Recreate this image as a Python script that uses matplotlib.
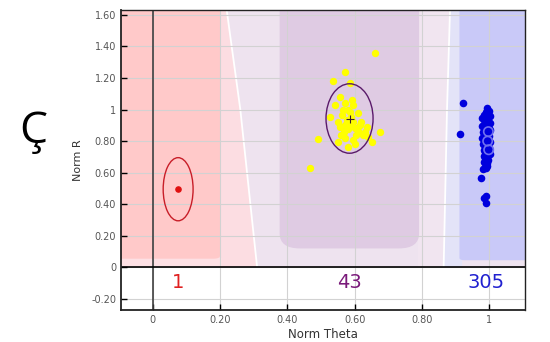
import numpy as np
import matplotlib
matplotlib.use("Agg")
import matplotlib.pyplot as plt
from matplotlib.patches import Ellipse, Rectangle, Polygon, FancyBboxPatch

# cluster counts shown under the plot
counts = ["1", "43", "305"]
count_x = [0.075, 0.585, 0.99]
count_colors = ["#e02020", "#7a1a7a", "#2020d0"]

# red cluster (one point)
red_x = [0.075]
red_y = [0.495]

# yellow cluster
yellow_x = [0.660, 0.571, 0.537, 0.586, 0.557, 0.591, 0.571, 0.596, 0.542, 0.566,
            0.586, 0.562, 0.527, 0.576, 0.596, 0.571, 0.616, 0.636, 0.557, 0.581,
            0.611, 0.676, 0.626, 0.641, 0.571, 0.596, 0.552, 0.492, 0.651, 0.581,
            0.467, 0.590, 0.600, 0.570, 0.620, 0.580, 0.605, 0.550, 0.630, 0.600,
            0.560, 0.590, 0.610]
yellow_y = [1.357, 1.240, 1.183, 1.170, 1.081, 1.060, 1.039, 1.029, 1.029, 0.997,
            0.986, 0.965, 0.950, 0.933, 0.923, 0.902, 0.902, 0.887, 0.887, 0.874,
            0.866, 0.859, 0.838, 0.827, 0.817, 0.806, 0.796, 0.811, 0.796, 0.764,
            0.627, 0.950, 0.880, 0.860, 0.920, 1.000, 0.840, 0.920, 0.860, 0.780,
            0.840, 0.900, 0.980]

# blue cluster
blue_x = [0.923, 0.914, 0.995, 1.000, 0.990, 0.985, 1.003, 0.992, 0.980, 0.998,
          0.988, 1.002, 0.984, 0.994, 0.978, 0.999, 0.987, 1.004, 0.991, 0.982,
          0.996, 0.986, 1.001, 0.990, 0.980, 0.997, 0.985, 1.003, 0.993, 0.983,
          0.998, 0.988, 1.000, 0.992, 0.984, 0.996, 0.987, 1.002, 0.990, 0.985,
          0.994, 0.988, 0.998, 0.991, 0.986, 0.995, 0.990, 0.993, 0.988, 0.992,
          0.982, 0.976, 0.991, 0.985, 0.990]
blue_y = [1.040, 0.845, 1.010, 0.990, 0.985, 0.965, 0.960, 0.950, 0.945, 0.935,
          0.925, 0.915, 0.910, 0.900, 0.895, 0.885, 0.878, 0.870, 0.862, 0.855,
          0.848, 0.840, 0.832, 0.825, 0.818, 0.810, 0.802, 0.795, 0.788, 0.780,
          0.772, 0.765, 0.758, 0.750, 0.742, 0.735, 0.728, 0.720, 0.712, 0.705,
          0.698, 0.690, 0.682, 0.675, 0.668, 0.660, 0.652, 0.645, 0.638, 0.630,
          0.620, 0.565, 0.450, 0.440, 0.410]
blue_ring_x = [0.998, 0.996, 0.999]
blue_ring_y = [0.860, 0.800, 0.745]

xticks = [0, 0.2, 0.4, 0.6, 0.8, 1.0]
xtick_labels = ["0", "0.20", "0.40", "0.60", "0.80", "1"]
yticks = [-0.2, 0, 0.2, 0.4, 0.6, 0.8, 1.0, 1.2, 1.4, 1.6]
ytick_labels = ["-0.20", "0", "0.20", "0.40", "0.60", "0.80", "1", "1.20", "1.40", "1.60"]

x0, x1 = -0.095, 1.107
y0, y1 = -0.27, 1.63

fig = plt.figure(figsize=(5.5, 3.42), dpi=100)
ax = fig.add_axes([0.22, 0.0936, 0.7345, 0.877])
ax.set_xlim(x0, x1)
ax.set_ylim(y0, y1)

# background regions (above y = 0)
ax.add_patch(Rectangle((x0, 0), x1 - x0, y1 + 0.1, color="#eee3ef", lw=0, zorder=0.2))
ax.add_patch(Polygon([(0.19, 0), (0.19, 1.7), (0.215, 1.7), (0.26, 1.0), (0.31, 0)],
                     closed=True, color="#fcdde2", lw=0, zorder=0.3))
ax.plot([0.215, 0.26, 0.31], [1.7, 1.0, 0.0], color="white", lw=1.3, zorder=0.35)
ax.add_patch(Rectangle((x0, 0), 0.30, 0.06, color="#fde0e4", lw=0, zorder=0.3))
ax.add_patch(FancyBboxPatch((x0 - 0.05, 0.055), 0.345, 1.7, boxstyle="round,pad=0.0,rounding_size=0.02",
                            color="#ffc9c9", lw=0, zorder=0.4))
ax.add_patch(Rectangle((0.79, 0), 0.13, 1.7, color="#f1e5f0", lw=0, zorder=0.3))
ax.add_patch(Polygon([(0.885, 1.7), (0.87, 0.5), (0.865, 0), (0.92, 0), (0.92, 1.7)],
                     closed=True, color="#e3e3f8", lw=0, zorder=0.32))
ax.plot([0.885, 0.875, 0.865], [1.7, 1.0, 0.0], color="white", lw=1.3, zorder=0.35)
ax.add_patch(FancyBboxPatch((0.377, 0.12), 0.415, 1.7, boxstyle="round,pad=0.0,rounding_size=0.06",
                            mutation_aspect=1.6, color="#dfcbe3", lw=0, zorder=0.4))
ax.add_patch(FancyBboxPatch((0.912, 0.045), 0.25, 1.7, boxstyle="round,pad=0.0,rounding_size=0.015",
                            color="#c9c9f8", lw=0, zorder=0.4))
# white band below zero
ax.add_patch(Rectangle((x0, y0), x1 - x0, -y0, color="white", lw=0, zorder=0.45))

ax.set_axisbelow("line")
ax.grid(True, color="#d2d2d2", lw=0.8)

ax.axvline(0, color="#404040", lw=1.2, zorder=1.8)
ax.axhline(0, color="black", lw=1.2, zorder=1.8)

# clusters
ax.add_patch(Ellipse((0.075, 0.495), 0.089, 0.40, fill=False, ec="#c81e28", lw=1.0, zorder=2.5))
ax.scatter(red_x, red_y, s=14, color="#e01010", zorder=3)

ax.scatter(yellow_x, yellow_y, s=28, color="#ffff00", lw=0, zorder=3)
ax.add_patch(Ellipse((0.585, 0.943), 0.14, 0.44, fill=False, ec="#5a1a6a", lw=1.0, zorder=3.5))
ax.plot([0.585], [0.943], marker="+", color="#3a1a2a", ms=6, mew=0.8, zorder=4)

ax.scatter(blue_x, blue_y, s=30, color="#0000dd", lw=0, zorder=3)
ax.scatter(blue_ring_x, blue_ring_y, s=45, facecolors="none", edgecolors="#7070f0", lw=1.2, zorder=3.2)

for t, xv, c in zip(counts, count_x, count_colors):
    ax.text(xv, -0.095, t, color=c, fontsize=14, ha="center", va="center", zorder=5)

ax.set_xticks(xticks)
ax.set_xticklabels(xtick_labels)
ax.set_yticks(yticks)
ax.set_yticklabels(ytick_labels)
ax.tick_params(direction="in", length=4, width=1, colors="black", labelsize=7,
               labelcolor="#555555", top=False, right=False)
for s in ax.spines.values():
    s.set_color("#222222")
    s.set_linewidth(1.0)
ax.spines["left"].set_linewidth(1.3)
ax.spines["bottom"].set_linewidth(1.3)

ax.set_xlabel("Norm Theta", fontsize=8.5, color="#333333", labelpad=2)
ax.set_ylabel("Norm R", fontsize=8, color="#333333", labelpad=6)

fig.text(0.06, 0.615, "Ç", fontsize=32, color="black", ha="center", va="center", family="Open Sans")

fig.savefig("out.png", dpi=100)
